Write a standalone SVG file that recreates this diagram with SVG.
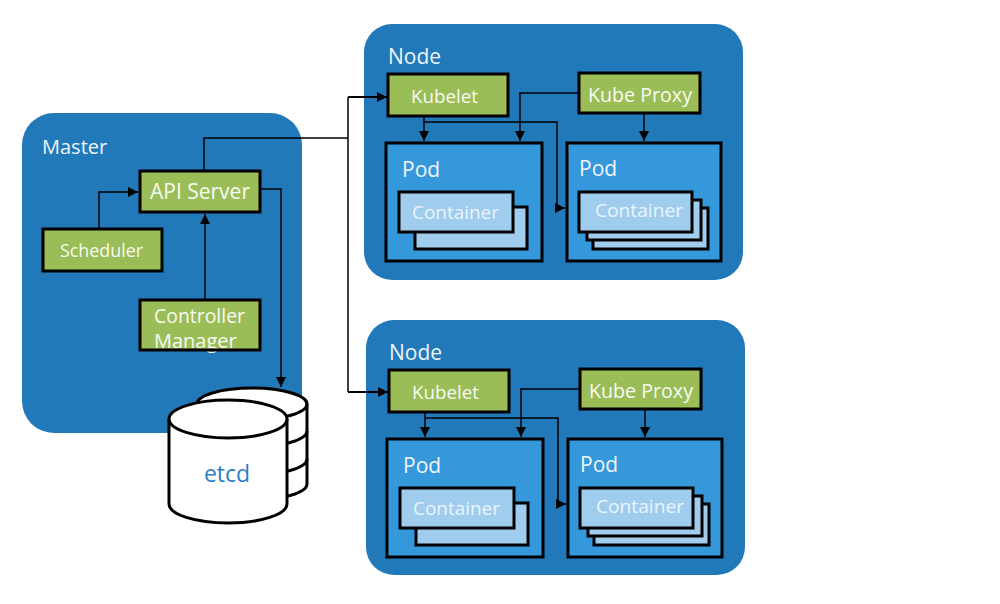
<svg xmlns="http://www.w3.org/2000/svg" width="1000" height="604" viewBox="0 0 1000 604">
<defs>
<style>
.panel{fill:#2279ba}
.green{fill:#9bbd57;stroke:#000;stroke-width:3}
.pod{fill:#3598da;stroke:#000;stroke-width:3}
.cont{fill:#a0cdee;stroke:#000;stroke-width:3}
.lbl{font-family:"Open Sans","Noto Sans",sans-serif;fill:#eef4fa}
.wt{font-family:"Open Sans","Noto Sans",sans-serif;fill:#f7faf2}
.ct{font-family:"Open Sans","Noto Sans",sans-serif;fill:#eaf4fc}
.ln{fill:none;stroke:#000;stroke-width:1.5}
.ln2{fill:none;stroke:#000;stroke-width:2}
.cyl{fill:#fff;stroke:#000;stroke-width:3}
</style>
<marker id="ah" viewBox="0 0 10 10" refX="10" refY="5" markerWidth="10" markerHeight="10" markerUnits="userSpaceOnUse" orient="auto">
<path d="M0,0 L10,5 L0,10 z" fill="#000"/>
</marker>
</defs>
<rect width="1000" height="604" fill="#fff"/>

<g id="master">
<rect class="panel" x="22" y="113" width="280" height="320" rx="32"/>
<text class="lbl" x="42" y="154" font-size="20">Master</text>
</g>

<g id="api-server">
<rect class="green" x="140" y="171" width="120" height="41"/>
<text class="wt" x="150" y="199" font-size="21" textLength="100" lengthAdjust="spacingAndGlyphs">API Server</text>
</g>

<g id="scheduler">
<rect class="green" x="43" y="229" width="119" height="42"/>
<text class="wt" x="60" y="257" font-size="18" textLength="83" lengthAdjust="spacingAndGlyphs">Scheduler</text>
</g>

<g id="controller-manager">
<rect x="140" y="300" width="120" height="50" fill="#9bbd57"/>
<text class="wt" x="154" y="323" font-size="20" textLength="91" lengthAdjust="spacingAndGlyphs">Controller</text>
<text class="wt" x="154" y="348" font-size="20">Manager</text>
<rect x="140" y="300" width="120" height="50" fill="none" stroke="#000" stroke-width="3"/>
</g>

<g id="etcd">
<path class="cyl" d="M197,404 A55,16 0 0 1 307,404 V484 A55,16 0 0 1 197,484 Z"/>
<path class="ln" style="stroke-width:3" d="M197,404 A55,16 0 0 0 307,404 M197,431 A55,16 0 0 0 307,431 M197,459 A55,16 0 0 0 307,459"/>
<path class="cyl" d="M169,419 A59,19 0 0 1 287,419 V504 A59,19 0 0 1 169,504 Z"/>
<path fill="none" stroke="#000" stroke-width="3" d="M169,419 A59,19 0 0 0 287,419"/>
<text x="227" y="482" font-size="23" text-anchor="middle" font-family="'Open Sans','Noto Sans',sans-serif" fill="#2e7dc7">etcd</text>
</g>

<g id="node1">
<rect class="panel" x="364" y="24" width="379" height="256" rx="28"/>
<text class="lbl" x="388" y="64" font-size="21">Node</text>
<g id="node1-kubelet">
<rect class="green" x="388" y="74" width="120" height="42"/>
<text class="wt" x="411" y="103" font-size="19" textLength="67" lengthAdjust="spacingAndGlyphs">Kubelet</text>
</g>
<g id="node1-kubeproxy">
<rect class="green" x="579" y="73" width="121" height="40"/>
<text class="wt" x="588" y="102" font-size="19.5" textLength="104" lengthAdjust="spacingAndGlyphs">Kube Proxy</text>
</g>
<g id="node1-pod1">
<rect class="pod" x="386" y="143" width="156" height="118"/>
<text class="lbl" x="402" y="177" font-size="21">Pod</text>
<rect class="cont" x="415" y="207" width="112" height="42"/>
<rect class="cont" x="399" y="192" width="114" height="40"/>
<text class="ct" x="412" y="219" font-size="19" textLength="87" lengthAdjust="spacingAndGlyphs">Container</text>
</g>
<g id="node1-pod2">
<rect class="pod" x="567" y="143" width="154" height="118"/>
<text class="lbl" x="579" y="176" font-size="21">Pod</text>
<rect class="cont" x="593" y="208" width="115" height="41"/>
<rect class="cont" x="587" y="200" width="114" height="40"/>
<rect class="cont" x="579" y="192" width="113" height="40"/>
<text class="ct" x="595" y="217" font-size="19" textLength="88" lengthAdjust="spacingAndGlyphs">Container</text>
</g>
</g>

<g id="node2" transform="translate(1,296)">
<rect class="panel" x="365" y="24" width="379" height="255" rx="28"/>
<text class="lbl" x="388" y="64" font-size="21">Node</text>
<g id="node2-kubelet">
<rect class="green" x="388" y="74" width="120" height="42"/>
<text class="wt" x="411" y="103" font-size="19" textLength="67" lengthAdjust="spacingAndGlyphs">Kubelet</text>
</g>
<g id="node2-kubeproxy">
<rect class="green" x="579" y="73" width="121" height="40"/>
<text class="wt" x="588" y="102" font-size="19.5" textLength="104" lengthAdjust="spacingAndGlyphs">Kube Proxy</text>
</g>
<g id="node2-pod1">
<rect class="pod" x="386" y="143" width="156" height="118"/>
<text class="lbl" x="402" y="177" font-size="21">Pod</text>
<rect class="cont" x="415" y="207" width="112" height="42"/>
<rect class="cont" x="399" y="192" width="114" height="40"/>
<text class="ct" x="412" y="219" font-size="19" textLength="87" lengthAdjust="spacingAndGlyphs">Container</text>
</g>
<g id="node2-pod2">
<rect class="pod" x="567" y="143" width="154" height="118"/>
<text class="lbl" x="579" y="176" font-size="21">Pod</text>
<rect class="cont" x="593" y="208" width="115" height="41"/>
<rect class="cont" x="587" y="200" width="114" height="40"/>
<rect class="cont" x="579" y="192" width="113" height="40"/>
<text class="ct" x="595" y="217" font-size="19" textLength="88" lengthAdjust="spacingAndGlyphs">Container</text>
</g>
</g>

<g id="connectors">
<path class="ln" d="M99,229 V192 H138" marker-end="url(#ah)"/>
<path class="ln" d="M205,300 V214" marker-end="url(#ah)"/>
<path class="ln" d="M260,189 H281 V387" marker-end="url(#ah)"/>
<path class="ln" d="M204,171 V138 H348"/>
<path class="ln" d="M348,97 V392"/>
<path class="ln2" d="M348,97 H387" marker-end="url(#ah)"/>
<path class="ln2" d="M348,392 H388" marker-end="url(#ah)"/>
<g id="node1-links">
<path class="ln" d="M424,116 V141" marker-end="url(#ah)"/>
<path class="ln" d="M424,122 H557 V208 H565" marker-end="url(#ah)"/>
<path class="ln" d="M579,93 H520 V141" marker-end="url(#ah)"/>
<path class="ln" d="M644,113 V141" marker-end="url(#ah)"/>
</g>
<g id="node2-links" transform="translate(1,296)">
<path class="ln" d="M424,116 V141" marker-end="url(#ah)"/>
<path class="ln" d="M424,122 H557 V208 H565" marker-end="url(#ah)"/>
<path class="ln" d="M579,93 H520 V141" marker-end="url(#ah)"/>
<path class="ln" d="M644,113 V141" marker-end="url(#ah)"/>
</g>
</g>
</svg>
